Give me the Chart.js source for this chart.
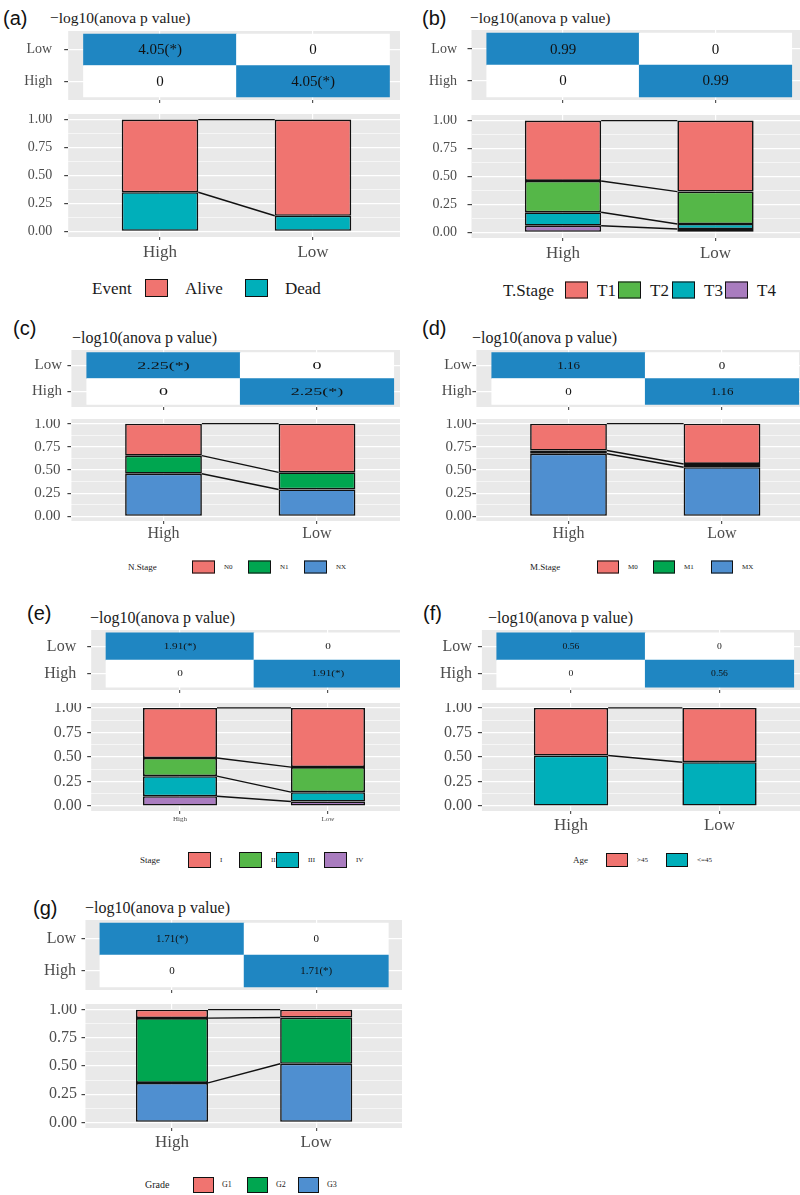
<!DOCTYPE html>
<html>
<head>
<meta charset="utf-8">
<script src="https://cdn.jsdelivr.net/npm/chart.js@4.4.1/dist/chart.umd.min.js"></script>
<style>
  html, body { margin: 0; padding: 0; background: #fff; }
  #fig { position: relative; width: 800px; height: 1195px; overflow: hidden; }
  #fig canvas { position: absolute; }
  .t { position: absolute; white-space: nowrap; line-height: 1; transform: translateY(-50%);
       font-family: 'Liberation Serif', serif; color: #1a1a1a; }
  .tag { font-family: 'Liberation Sans', Arial, sans-serif; color: #111; }
  .sw { position: absolute; box-sizing: border-box; border: 1.5px solid #111; transform: translateY(-50%); }
</style>
</head>
<body>
<div id="fig"></div>
<script>
// two risk groups on the x axis, heatmap rows top to bottom
const groups = ['High', 'Low'];
const heatRows = ['Low', 'High'];

// proportions per group, levels listed top of the stack first
const eventLevels = ['Alive', 'Dead'];
const eventHigh = [0.65, 0.35];
const eventLow = [0.86, 0.14];

const tStageLevels = ['T1', 'T2', 'T3', 'T4'];
const tStageHigh = [0.54, 0.28, 0.12, 0.06];
const tStageLow = [0.635, 0.29, 0.045, 0.03];

const nStageLevels = ['N0', 'N1', 'NX'];
const nStageHigh = [0.345, 0.195, 0.46];
const nStageLow = [0.525, 0.185, 0.29];

const mStageLevels = ['M0', 'M1', 'MX'];
const mStageHigh = [0.29, 0.035, 0.675];
const mStageLow = [0.435, 0.035, 0.53];

const stageLevels = ['I', 'II', 'III', 'IV'];
const stageHigh = [0.51, 0.185, 0.205, 0.10];
const stageLow = [0.603, 0.255, 0.095, 0.047];

const ageLevels = ['>45', '<=45'];
const ageHigh = [0.485, 0.515];
const ageLow = [0.553, 0.447];

const gradeLevels = ['G1', 'G2', 'G3'];
const gradeHigh = [0.075, 0.575, 0.35];
const gradeLow = [0.07, 0.41, 0.52];

// -log10(anova p) per variable, and whether it is flagged (*)
const logP = [4.05, 0.99, 2.25, 1.16, 1.91, 0.56, 1.71];
const flagged = [true, false, true, false, true, false, true];

const RED = '#f07470', TEAL = '#00afba', GREEN = '#55b748', PURPLE = '#a97cbf';
const DGREEN = '#00a650', BLUE = '#4f8fd0', TILE = '#1f86c2';
const GRID_BG = '#e9e9e9', TICK_TXT = '#4d4d4d';

const panels = [
  { tag: '(a)', name: 'Event', levels: eventLevels, high: eventHigh, low: eventLow, colors: [RED, TEAL] },
  { tag: '(b)', name: 'T.Stage', levels: tStageLevels, high: tStageHigh, low: tStageLow, colors: [RED, GREEN, TEAL, PURPLE] },
  { tag: '(c)', name: 'N.Stage', levels: nStageLevels, high: nStageHigh, low: nStageLow, colors: [RED, DGREEN, BLUE] },
  { tag: '(d)', name: 'M.Stage', levels: mStageLevels, high: mStageHigh, low: mStageLow, colors: [RED, DGREEN, BLUE] },
  { tag: '(e)', name: 'Stage', levels: stageLevels, high: stageHigh, low: stageLow, colors: [RED, GREEN, TEAL, PURPLE] },
  { tag: '(f)', name: 'Age', levels: ageLevels, high: ageHigh, low: ageLow, colors: [RED, TEAL] },
  { tag: '(g)', name: 'Grade', levels: gradeLevels, high: gradeHigh, low: gradeLow, colors: [RED, DGREEN, BLUE] }
];

// page placement of each panel (pixels)
const layout = [
  { x0: 0, right: 400, c1: 160, c2: 313, heat: [34, 97], bar: [120, 232],
    tag: [3, 18, 20], title: [50, 18, 15.5], yFont: 14, heatPad: 12, barPad: 12,
    xFont: 17, xPad: 2, tileFont: 15, stretch: 1,
    legend: { y: 287.5, x: 92, tFont: 17, font: 17, sw: [145, 245], w: 23, h: 18, gap: 17 } },
  { x0: 400, right: 800, c1: 563, c2: 715.5, heat: [33.3, 96.7], bar: [120.7, 232.7],
    tag: [422, 18, 20], title: [470, 18, 15.5], yFont: 14, heatPad: 10.5, barPad: 10.5,
    xFont: 17, xPad: 2, tileFont: 15, stretch: 1,
    legend: { y: 289.5, x: 503, tFont: 17, font: 17, sw: [565, 618, 672, 725], w: 23, h: 17, gap: 9 } },
  { x0: 0, right: 400, c1: 163.5, c2: 317, heat: [352.7, 404.3], bar: [424, 516.7],
    tag: [13, 328, 20], title: [72, 338, 16], yFont: 15, heatPad: 5.4, barPad: 7,
    xFont: 16, xPad: 0, tileFont: 10, stretch: 1.8,
    legend: { y: 566.7, x: 128, tFont: 9, font: 7, sw: [192, 248, 304], w: 23, h: 13, gap: 9 } },
  { x0: 400, right: 800, c1: 568.5, c2: 722, heat: [352.7, 404.3], bar: [424, 517],
    tag: [422, 328, 20], title: [472, 338, 16], yFont: 15, heatPad: 0.7, barPad: 0.7,
    xFont: 16, xPad: 0, tileFont: 10, stretch: 1.3,
    legend: { y: 567, x: 530, tFont: 9, font: 7, sw: [597, 653, 711], w: 22, h: 13, gap: 9 } },
  { x0: 0, right: 400, c1: 180, c2: 328, heat: [632.7, 687.3], bar: [708.3, 806.7],
    tag: [27, 613, 20], title: [90, 618, 16], yFont: 16, heatPad: 11, barPad: 5.5,
    xFont: 7, xPad: 1, tileFont: 8, stretch: 1.4,
    legend: { y: 860, x: 140, tFont: 9, font: 7, sw: [188, 239, 276, 324], w: 23, h: 16, gap: 9 } },
  { x0: 400, right: 800, c1: 571, c2: 719.5, heat: [632.7, 687.3], bar: [708.3, 806.7],
    tag: [423, 613, 20], title: [488, 618, 16], yFont: 16, heatPad: 6, barPad: 6,
    xFont: 17, xPad: 1, tileFont: 8, stretch: 1.2,
    legend: { y: 860, x: 573, tFont: 9, font: 7, sw: [606, 666], w: 22, h: 14, gap: 9 } },
  { x0: 0, right: 402, c1: 172, c2: 316.2, heat: [923.3, 986.7], bar: [1010, 1122.3],
    tag: [33, 908, 20], title: [85, 908, 16], yFont: 16, heatPad: 5.5, barPad: 4.5,
    xFont: 17, xPad: 1, tileFont: 10, stretch: 1.1,
    legend: { y: 1185, x: 145, tFont: 10, font: 8, sw: [193, 247, 298], w: 21, h: 16, gap: 8 } }
];

const fig = document.getElementById('fig');
const SERIF = "'Liberation Serif', serif";
const TICK_LEN = 4;

function text(x, y, s, size, cls) {
  const d = document.createElement('div');
  d.className = 't' + (cls ? ' ' + cls : '');
  d.textContent = s;
  d.style.left = x + 'px';
  d.style.top = y + 'px';
  d.style.fontSize = size + 'px';
  fig.appendChild(d);
  return d;
}

function swatch(x, y, w, h, color) {
  const d = document.createElement('div');
  d.className = 'sw';
  d.style.left = x + 'px';
  d.style.top = y + 'px';
  d.style.width = w + 'px';
  d.style.height = h + 'px';
  d.style.background = color;
  fig.appendChild(d);
}

function addCanvas(left, top, w, h) {
  const c = document.createElement('canvas');
  c.width = Math.round(w);
  c.height = Math.round(h);
  c.style.left = left + 'px';
  c.style.top = top + 'px';
  c.style.width = Math.round(w) + 'px';
  c.style.height = Math.round(h) + 'px';
  fig.appendChild(c);
  return c;
}

// grey ggplot-style panel behind the grid
const panelBg = {
  id: 'panelBg',
  beforeDraw(chart) {
    const a = chart.chartArea, ctx = chart.ctx;
    ctx.save();
    ctx.fillStyle = GRID_BG;
    ctx.fillRect(a.left, a.top, a.right - a.left, a.bottom - a.top);
    ctx.restore();
  }
};

// value printed in each heatmap tile
const tileText = {
  id: 'tileText',
  afterDatasetsDraw(chart, args, o) {
    const ctx = chart.ctx;
    const data = chart.data.datasets[0].data;
    ctx.save();
    ctx.fillStyle = '#111';
    ctx.font = o.size + 'px ' + SERIF;
    ctx.textAlign = 'center';
    ctx.textBaseline = 'middle';
    chart.getDatasetMeta(0).data.forEach((el, i) => {
      const v = data[i].v;
      const s = v === 0 ? '0' : v.toFixed(2) + (o.star ? '(*)' : '');
      ctx.save();
      ctx.translate((el.x + el.base) / 2, el.y + 0.5);
      ctx.scale(o.stretch, 1);
      ctx.fillText(s, 0, 0);
      ctx.restore();
    });
    ctx.restore();
  }
};

// lines joining matching segment tops of the two stacked bars
const connectors = {
  id: 'connectors',
  afterDatasetsDraw(chart) {
    const ctx = chart.ctx, y = chart.scales.y;
    const bars = chart.getDatasetMeta(0).data;
    const xa = bars[0].x + bars[0].width / 2;
    const xb = bars[1].x - bars[1].width / 2;
    let ha = 0, hb = 0;
    ctx.save();
    ctx.strokeStyle = '#111';
    ctx.lineWidth = 1.4;
    chart.data.datasets.forEach(ds => {
      ha += ds.data[0].y;
      hb += ds.data[1].y;
      ctx.beginPath();
      ctx.moveTo(xa, y.getPixelForValue(ha));
      ctx.lineTo(xb, y.getPixelForValue(hb));
      ctx.stroke();
    });
    ctx.restore();
  }
};

function fixWidth(w) {
  return s => { s.width = w; s.paddingTop = 0; s.paddingBottom = 0; };
}
function fixHeight(h) {
  return s => { s.height = h; s.paddingLeft = 0; s.paddingRight = 0; };
}
const centreTicks = s => { s.ticks = [{ value: 1 }, { value: 2 }]; };

panels.forEach((p, n) => {
  const L = layout[n];
  const u = L.c2 - L.c1;
  const areaLeft = L.c1 - 0.6 * u;
  const xMax = 2 + (L.right - L.c2) / u;
  const yW = areaLeft - L.x0;
  const W = L.right - L.x0;

  text(L.tag[0], L.tag[1], p.tag, L.tag[2], 'tag');
  text(L.title[0], L.title[1], '\u2212log10(anova p value)', L.title[2]);

  // --- heatmap of pairwise -log10(p) ---
  const rowH = (L.heat[1] - L.heat[0]) / 2;
  const hTop = L.heat[0] - 0.1 * rowH;
  const hH = 2.2 * rowH;
  const tiles = [];
  heatRows.forEach((r, i) => groups.forEach((g, j) => {
    tiles.push({ y: i + 1, x: [j + 0.5, j + 1.5], v: r === g ? 0 : logP[n] });
  }));
  new Chart(addCanvas(L.x0, hTop, W, hH + 8), {
    type: 'bar',
    data: {
      datasets: [{
        data: tiles,
        backgroundColor: c => (c.raw && c.raw.v > 0 ? TILE : '#ffffff'),
        borderWidth: 0,
        barPercentage: 1,
        categoryPercentage: 1
      }]
    },
    options: {
      indexAxis: 'y',
      responsive: false,
      animation: false,
      layout: { padding: 0 },
      plugins: {
        legend: { display: false },
        tooltip: { enabled: false },
        tileText: { size: L.tileFont, stretch: L.stretch, star: flagged[n] }
      },
      scales: {
        x: {
          type: 'linear', min: 0.4, max: xMax, offset: false,
          afterBuildTicks: centreTicks,
          afterFit: fixHeight(8),
          ticks: { callback: () => '', padding: 0 },
          grid: { color: '#fff', lineWidth: 1.2, tickLength: 3, tickColor: '#555', offset: false },
          border: { display: false }
        },
        y: {
          type: 'linear', min: 0.4, max: 2.6, reverse: true, offset: false,
          afterBuildTicks: centreTicks,
          afterFit: fixWidth(yW),
          ticks: {
            callback: v => heatRows[Math.round(v) - 1],
            font: { family: SERIF, size: L.yFont }, color: TICK_TXT, padding: L.heatPad
          },
          grid: { color: '#fff', lineWidth: 1.2, tickLength: TICK_LEN, tickColor: '#444', offset: false },
          border: { display: false }
        }
      }
    },
    plugins: [panelBg, tileText]
  });

  // --- stacked proportion bars ---
  const span = L.bar[1] - L.bar[0];
  const bTop = L.bar[0] - 0.05 * span;
  const xH = 30;
  const datasets = p.levels.map((lv, k) => ({
    label: lv,
    data: [{ x: 1, y: p.high[k] }, { x: 2, y: p.low[k] }],
    backgroundColor: p.colors[k],
    borderColor: '#111',
    borderWidth: 1.6,
    borderSkipped: false,
    barPercentage: 1,
    categoryPercentage: 0.5
  })).reverse();
  const minor = v => Math.round(v * 8) % 2 === 1;

  new Chart(addCanvas(L.x0, bTop, W, 1.1 * span + xH), {
    type: 'bar',
    data: { datasets },
    options: {
      responsive: false,
      animation: false,
      layout: { padding: 0 },
      plugins: { legend: { display: false }, tooltip: { enabled: false } },
      scales: {
        x: {
          type: 'linear', min: 0.4, max: xMax, offset: false, stacked: true,
          afterBuildTicks: centreTicks,
          afterFit: fixHeight(xH),
          ticks: {
            callback: v => groups[Math.round(v) - 1],
            font: { family: SERIF, size: L.xFont }, color: TICK_TXT, padding: L.xPad
          },
          grid: { color: '#fff', lineWidth: 1.2, tickLength: 3, tickColor: '#555', offset: false },
          border: { display: false }
        },
        y: {
          type: 'linear', min: -0.05, max: 1.05, stacked: true,
          afterBuildTicks: s => { s.ticks = [0, 1, 2, 3, 4, 5, 6, 7, 8].map(i => ({ value: i / 8 })); },
          afterFit: fixWidth(yW),
          ticks: {
            autoSkip: false,
            callback: v => (minor(v) ? '' : v.toFixed(2)),
            font: { family: SERIF, size: L.yFont }, color: TICK_TXT, padding: L.barPad
          },
          grid: {
            color: '#fff',
            lineWidth: c => (c.tick && minor(c.tick.value) ? 0.6 : 1.2),
            tickLength: TICK_LEN,
            tickColor: c => (c.tick && minor(c.tick.value) ? 'rgba(0,0,0,0)' : '#444')
          },
          border: { display: false }
        }
      }
    },
    plugins: [panelBg, connectors]
  });

  // --- legend ---
  const g = L.legend;
  text(g.x, g.y, p.name, g.tFont);
  p.levels.forEach((lv, k) => {
    swatch(g.sw[k], g.y, g.w, g.h, p.colors[k]);
    text(g.sw[k] + g.w + g.gap, g.y, lv, g.font);
  });
});
</script>
</body>
</html>
